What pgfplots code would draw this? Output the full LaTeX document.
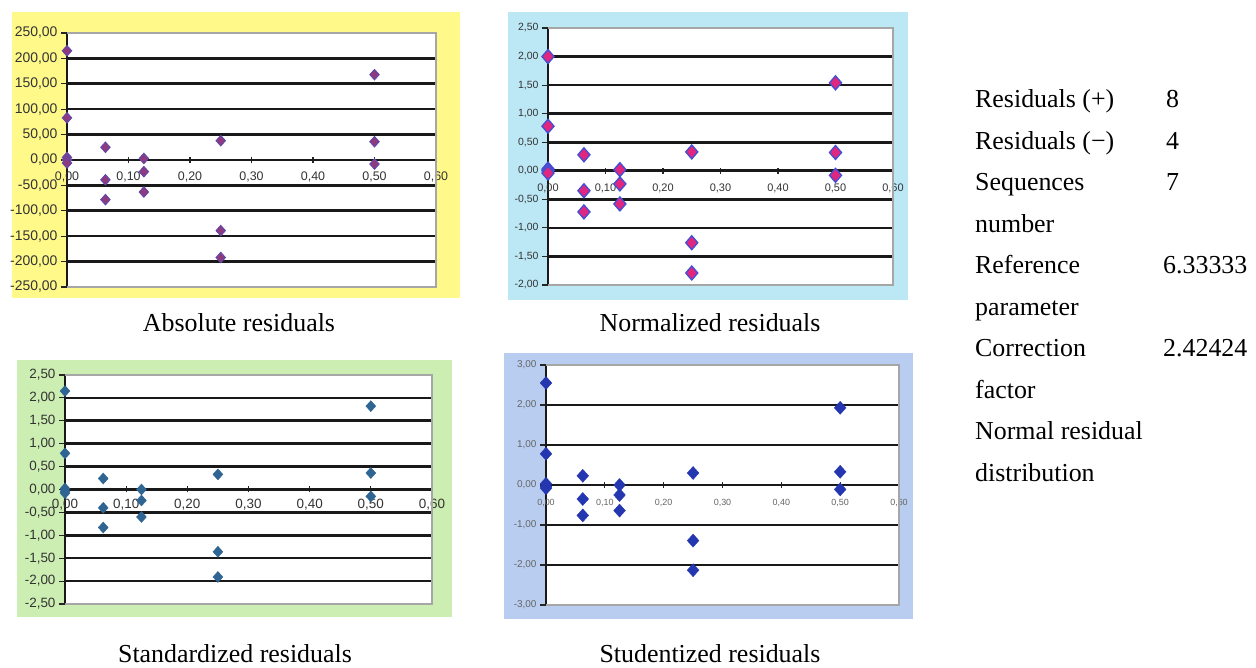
\documentclass[border=0pt]{standalone}
\usepackage{fontspec}
\setmainfont{Liberation Serif}
\newfontfamily\arialfont{Liberation Sans}
\usepackage{pgfplots}
\pgfplotsset{compat=1.18}

\definecolor{bgY}{HTML}{FFF98A}
\definecolor{bgB}{HTML}{BCE8F6}
\definecolor{bgG}{HTML}{CDEEB2}
\definecolor{bgS}{HTML}{B9CDF1}
\definecolor{mAbs}{HTML}{8E3A80}
\definecolor{eAbs}{HTML}{5A4AB0}
\definecolor{mNorm}{HTML}{E0267E}
\definecolor{eNorm}{HTML}{3F4FD6}
\definecolor{mStd}{HTML}{2F6592}
\definecolor{mStu}{HTML}{2537B0}

\tikzset{resborder/.style={draw=gray!70, line width=1.2bp}}
\pgfplotsset{
  resid/.style={
    scale only axis, anchor=south west,
    axis x line*=middle, axis y line*=left,
    hide obscured x ticks=false, hide obscured y ticks=false,
    xmin=0, xmax=0.6,
    xtick={0,0.1,0.2,0.3,0.4,0.5,0.6},
    xticklabels={{0,00},{0,10},{0,20},{0,30},{0,40},{0,50},{0,60}},
    axis line style={line width=2.6bp, black!90},
    tick style={line width=1.1bp, black!85},
    major tick length=6bp,
    xtick align=center,
    ytick align=outside,
    axis background/.style={fill=white},
    clip=false,
    extra y tick style={grid=major, major grid style={line width=2.6bp, black!90}, major tick length=0pt},
    extra y tick labels={},
    /pgf/number format/assume math mode=true,
  },
}

\begin{document}
\begin{tikzpicture}
\useasboundingbox (0,0) rectangle (1256bp,668bp);

% backgrounds
\fill[bgY] (12bp,370bp) rectangle (460bp,656bp);
\fill[bgB] (508bp,368bp) rectangle (908bp,656bp);
\fill[bgG] (17bp,51bp) rectangle (452bp,308bp);
\fill[bgS] (504bp,49bp) rectangle (913bp,315bp);

% ---------------- Absolute residuals ----------------
\begin{axis}[resid, at={(67bp,381bp)}, width=369bp, height=254bp,
  ymin=-250, ymax=250,
  ytick={-250,-200,-150,-100,-50,0,50,100,150,200,250},
  yticklabels={{-250,00},{-200,00},{-150,00},{-100,00},{-50,00},{0,00},{50,00},{100,00},{150,00},{200,00},{250,00}},
  extra y ticks={-200,-150,-100,-50,50,100,150,200},
  yticklabel style={font=\arialfont\fontsize{14}{14}\selectfont, text=black!80},
  xticklabel style={font=\arialfont\fontsize{12.5}{12.5}\selectfont, text=black!80, yshift=-5bp},
]
\draw[resborder] (rel axis cs:0,1) -- (rel axis cs:1,1) -- (rel axis cs:1,0) -- (rel axis cs:0,0);
\addplot[only marks, mark=diamond*, mark size=5.3bp, mark options={xscale=1.2, fill=mAbs, draw=eAbs, line width=0.8bp}]
coordinates {(0,215) (0,83) (0,5) (0,0) (0,-6)
 (0.0625,25) (0.0625,-39) (0.0625,-78)
 (0.125,3) (0.125,-23) (0.125,-63)
 (0.25,38) (0.25,-139) (0.25,-192)
 (0.5,168) (0.5,36) (0.5,-8)};
\end{axis}

% ---------------- Normalized residuals ----------------
\begin{axis}[resid, at={(548bp,383bp)}, width=345bp, height=257bp,
  ymin=-2, ymax=2.5,
  ytick={-2,-1.5,-1,-0.5,0,0.5,1,1.5,2,2.5},
  yticklabels={{-2,00},{-1,50},{-1,00},{-0,50},{0,00},{0,50},{1,00},{1,50},{2,00},{2,50}},
  extra y ticks={-1.5,-1,-0.5,0.5,1,1.5,2},
  yticklabel style={font=\arialfont\fontsize{10.5}{10.5}\selectfont, text=black!80},
  xticklabel style={font=\arialfont\fontsize{11}{11}\selectfont, text=black!80, yshift=-7bp},
]
\draw[resborder] (rel axis cs:0,1) -- (rel axis cs:1,1) -- (rel axis cs:1,0) -- (rel axis cs:0,0);
\addplot[only marks, mark=diamond*, mark size=7bp, mark options={xscale=1.15, fill=mNorm, draw=eNorm, line width=1.3bp}]
coordinates {(0,2.00) (0,0.78) (0,0.03) (0,0) (0,-0.04)
 (0.0625,0.28) (0.0625,-0.35) (0.0625,-0.72)
 (0.125,0.02) (0.125,-0.23) (0.125,-0.58)
 (0.25,0.33) (0.25,-1.26) (0.25,-1.79)
 (0.5,1.54) (0.5,0.32) (0.5,-0.08)};
\end{axis}

% ---------------- Standardized residuals ----------------
\begin{axis}[resid, at={(65bp,64bp)}, width=367bp, height=229bp,
  ymin=-2.5, ymax=2.5,
  ytick={-2.5,-2,-1.5,-1,-0.5,0,0.5,1,1.5,2,2.5},
  yticklabels={{-2,50},{-2,00},{-1,50},{-1,00},{-0,50},{0,00},{0,50},{1,00},{1,50},{2,00},{2,50}},
  extra y ticks={-2,-1.5,-1,-0.5,0.5,1,1.5,2},
  yticklabel style={font=\arialfont\fontsize{13.5}{13.5}\selectfont, text=black!80},
  xticklabel style={font=\arialfont\fontsize{13.5}{13.5}\selectfont, text=black!80, yshift=-3bp},
]
\draw[resborder] (rel axis cs:0,1) -- (rel axis cs:1,1) -- (rel axis cs:1,0) -- (rel axis cs:0,0);
\addplot[only marks, mark=diamond*, mark size=5.5bp, mark options={xscale=1.2, fill=mStd, draw=mStd}]
coordinates {(0,2.15) (0,0.79) (0,0.02) (0,-0.04) (0,-0.08)
 (0.0625,0.24) (0.0625,-0.40) (0.0625,-0.83)
 (0.125,0) (0.125,-0.24) (0.125,-0.60)
 (0.25,0.33) (0.25,-1.36) (0.25,-1.91)
 (0.5,1.82) (0.5,0.36) (0.5,-0.15)};
\end{axis}

% ---------------- Studentized residuals ----------------
\begin{axis}[resid, at={(546bp,63bp)}, width=353bp, height=240bp,
  ymin=-3, ymax=3,
  ytick={-3,-2,-1,0,1,2,3},
  yticklabels={{-3,00},{-2,00},{-1,00},{0,00},{1,00},{2,00},{3,00}},
  extra y ticks={-2,-1,1,2},
  yticklabel style={font=\arialfont\fontsize{10}{10}\selectfont, text=black!60},
  xticklabel style={font=\arialfont\fontsize{9}{9}\selectfont, text=black!60, yshift=-8bp},
]
\draw[resborder] (rel axis cs:0,1) -- (rel axis cs:1,1) -- (rel axis cs:1,0) -- (rel axis cs:0,0);
\addplot[only marks, mark=diamond*, mark size=6.5bp, mark options={xscale=1.2, fill=mStu, draw=mStu}]
coordinates {(0,2.55) (0,0.78) (0,0.03) (0,-0.04) (0,-0.08)
 (0.0625,0.23) (0.0625,-0.35) (0.0625,-0.76)
 (0.125,0) (0.125,-0.25) (0.125,-0.64)
 (0.25,0.30) (0.25,-1.39) (0.25,-2.13)
 (0.5,1.93) (0.5,0.33) (0.5,-0.11)};
\end{axis}

% captions
\begin{scope}[font=\fontsize{26}{30}\selectfont]
\node[anchor=base, inner sep=0pt] at (239bp,336bp) {Absolute residuals};
\node[anchor=base, inner sep=0pt] at (710bp,336bp) {Normalized residuals};
\node[anchor=base, inner sep=0pt, text depth=0pt] at (235bp,6bp) {Standardized residuals};
\node[anchor=base, inner sep=0pt, text depth=0pt] at (710bp,6bp) {Studentized residuals};

\node[anchor=base west, inner sep=0pt] at (975bp,560bp) {Residuals (+)};
\node[anchor=base west, inner sep=0pt] at (1166bp,560bp) {8};
\node[anchor=base west, inner sep=0pt] at (975bp,518.5bp) {Residuals (−)};
\node[anchor=base west, inner sep=0pt] at (1166bp,518.5bp) {4};
\node[anchor=base west, inner sep=0pt] at (975bp,477bp) {Sequences};
\node[anchor=base west, inner sep=0pt] at (1166bp,477bp) {7};
\node[anchor=base west, inner sep=0pt] at (975bp,435.5bp) {number};
\node[anchor=base west, inner sep=0pt] at (975bp,394bp) {Reference};
\node[anchor=base west, inner sep=0pt] at (1163bp,394bp) {6.33333};
\node[anchor=base west, inner sep=0pt] at (975bp,352.5bp) {parameter};
\node[anchor=base west, inner sep=0pt] at (975bp,311bp) {Correction};
\node[anchor=base west, inner sep=0pt] at (1163bp,311bp) {2.42424};
\node[anchor=base west, inner sep=0pt] at (975bp,269.5bp) {factor};
\node[anchor=base west, inner sep=0pt] at (975bp,228bp) {Normal residual};
\node[anchor=base west, inner sep=0pt] at (975bp,186.5bp) {distribution};
\end{scope}
\end{tikzpicture}
\end{document}
